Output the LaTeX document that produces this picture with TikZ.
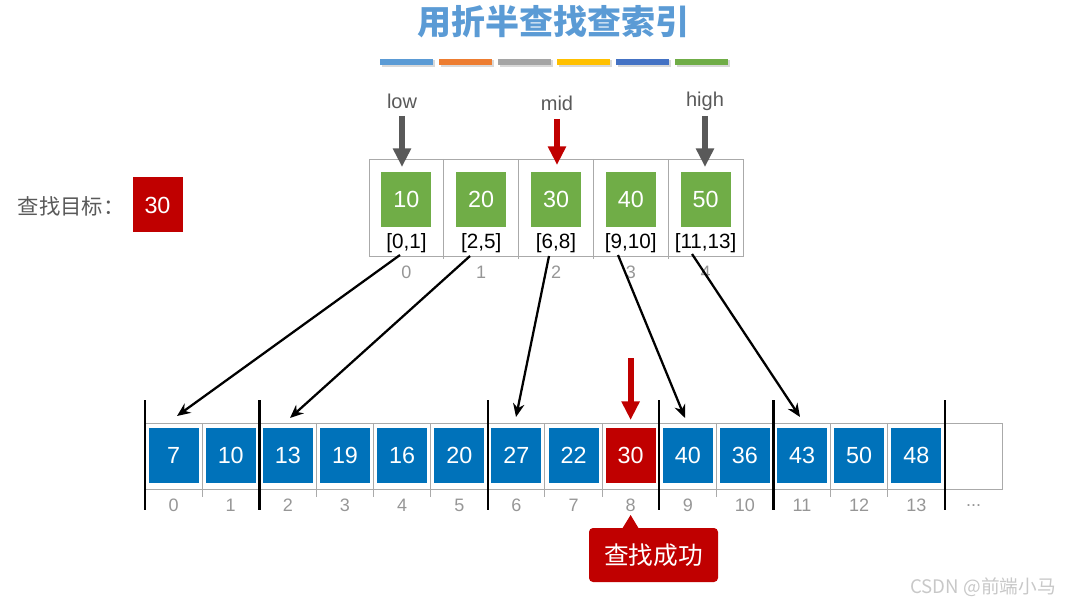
\documentclass[tikz,border=0pt]{standalone}
\usepackage{fontspec}
\setmainfont{Liberation Sans}
\newfontfamily\cjk{Noto Sans CJK SC}
\usetikzlibrary{arrows.meta,calc}
\definecolor{tblue}{RGB}{91,155,213}
\definecolor{torange}{RGB}{237,125,49}
\definecolor{tgray}{RGB}{165,165,165}
\definecolor{tyellow}{RGB}{255,192,0}
\definecolor{tdblue}{RGB}{68,114,196}
\definecolor{tgreen}{RGB}{112,173,71}
\definecolor{boxblue}{RGB}{0,114,186}
\definecolor{okred}{RGB}{192,0,0}
\definecolor{darkg}{RGB}{89,89,89}
\definecolor{idxg}{RGB}{150,150,150}
\definecolor{gridg}{RGB}{170,170,170}
\definecolor{wm}{RGB}{200,200,200}
\begin{document}
\begin{tikzpicture}[x=0.75pt,y=-0.75pt,
  sq/.style={minimum width=37.5pt,minimum height=41.25pt,inner sep=0pt,text=white,font=\fontsize{17.5}{19}\selectfont},
  gbox/.style={sq,fill=tgreen},
  bbox/.style={sq,fill=boxblue},
  rbox/.style={sq,fill=okred},
  idx/.style={text=idxg,font=\fontsize{13.5}{15}\selectfont,inner sep=0pt},
  rng/.style={font=\fontsize{15.5}{17}\selectfont,inner sep=0pt},
  grid/.style={draw=gridg,line width=0.7pt},
  sepline/.style={line width=1.9pt,black},
  conn/.style={-{Stealth[length=10pt,width=8.5pt]},line width=1.7pt,black},
  ptr/.style={-{Triangle[length=14pt,width=13pt]},line width=4.5pt},
  lbl/.style={text=darkg,font=\fontsize{15}{17}\selectfont,inner sep=0pt},
  bar/.style={minimum width=40pt,minimum height=5pt,inner sep=0pt}
]
\useasboundingbox (0,0) rectangle (1069,605);
% title
\node[text=tblue,font=\cjk\bfseries\fontsize{25.5}{28}\selectfont] (title) at (553,22) {用折半查找查索引};
% colour bars
\foreach \c [count=\i from 0] in {tblue,torange,tgray,tyellow,tdblue,tgreen}{
  \fill[black!15] (380+\i*59+1.5,60) rectangle ++(53.5,7.5);
  \node[bar,fill=\c] (bar\i) at (406.5+\i*59,62) {};
}
% target
\node[text=darkg,font=\cjk\fontsize{16}{18}\selectfont] (tlabel) at (71,206) {查找目标：};
\node[rbox] (target) at (157.5,205) {30};
% index table grid
\draw[grid] (369,159) rectangle (743,256);
\foreach \i in {1,...,4}{ \draw[grid] (369+\i*74.8,159) -- (369+\i*74.8,259); }
\foreach \v [count=\i from 0] in {10,20,30,40,50}{
  \node[gbox] (g\i) at (406.4+\i*74.8,199.5) {\v};
  \node[idx] (gi\i) at (406.4+\i*74.8,272) {\i};
}
\foreach \r [count=\i from 0] in {{[0,1]},{[2,5]},{[6,8]},{[9,10]},{[11,13]}}{
  \node[rng] (r\i) at (406.4+\i*74.8,243) {\r};
}
% pointers
\node[lbl] (low) at (402,101) {low};
\node[lbl] (mid) at (557,103) {mid};
\node[lbl] (high) at (705,101) {high};
\coordinate (lowt) at (402,167);
\coordinate (midt) at (557,165);
\coordinate (hight) at (705,167);
\draw[ptr,darkg] (402,116) -- (lowt);
\draw[ptr,okred,line width=3.8pt] (557,119) -- (midt);
\draw[ptr,darkg] (705,116) -- (hight);
% bottom array
\draw[grid] (145,423) rectangle (1002,489);
\foreach \i in {1,...,14}{ \draw[grid] (145+\i*57.13,423) -- (145+\i*57.13,497); }
\foreach \v [count=\i from 0] in {7,10,13,19,16,20,27,22,30,40,36,43,50,48}{
  \ifnum\i=8
    \node[rbox] (c\i) at (173.6+\i*57.13,455.5) {\v};
  \else
    \node[bbox] (c\i) at (173.6+\i*57.13,455.5) {\v};
  \fi
  \node[idx] (ci\i) at (173.6+\i*57.13,505) {\i};
}
\node[idx] (dots) at (973.5,506) {...};
% separators
\foreach \x in {145,259.3,487.8,659.2,773.5,944.9}{ \draw[sepline] (\x,400) -- (\x,510); }
% red pointer at 8
\coordinate (hitt) at (630.6,420);
\draw[ptr,okred] (630.6,358) -- (hitt);
% success callout
\node[fill=okred,rounded corners=3pt,minimum width=96.75pt,minimum height=40.5pt,text=white,font=\cjk\fontsize{18.5}{20}\selectfont] (ok) at (653.5,555) {查找成功};
\fill[okred] (622,529) -- (630.6,515) -- (639,529) -- cycle;
% connectors
\coordinate (s0) at (400,255); \coordinate (e0) at (177,416);
\coordinate (s1) at (470,256); \coordinate (e1) at (290,418);
\coordinate (s2) at (549,256); \coordinate (e2) at (516,417);
\coordinate (s3) at (618,255); \coordinate (e3) at (685,418);
\coordinate (s4) at (692,254); \coordinate (e4) at (800,417);
\foreach \i in {0,...,4}{ \draw[conn] (s\i) -- (e\i); }
% watermark
\node[text=wm,font=\cjk\fontsize{14}{16}\selectfont] (wmk) at (983,587) {CSDN @前端小马};
\end{tikzpicture}
\end{document}
